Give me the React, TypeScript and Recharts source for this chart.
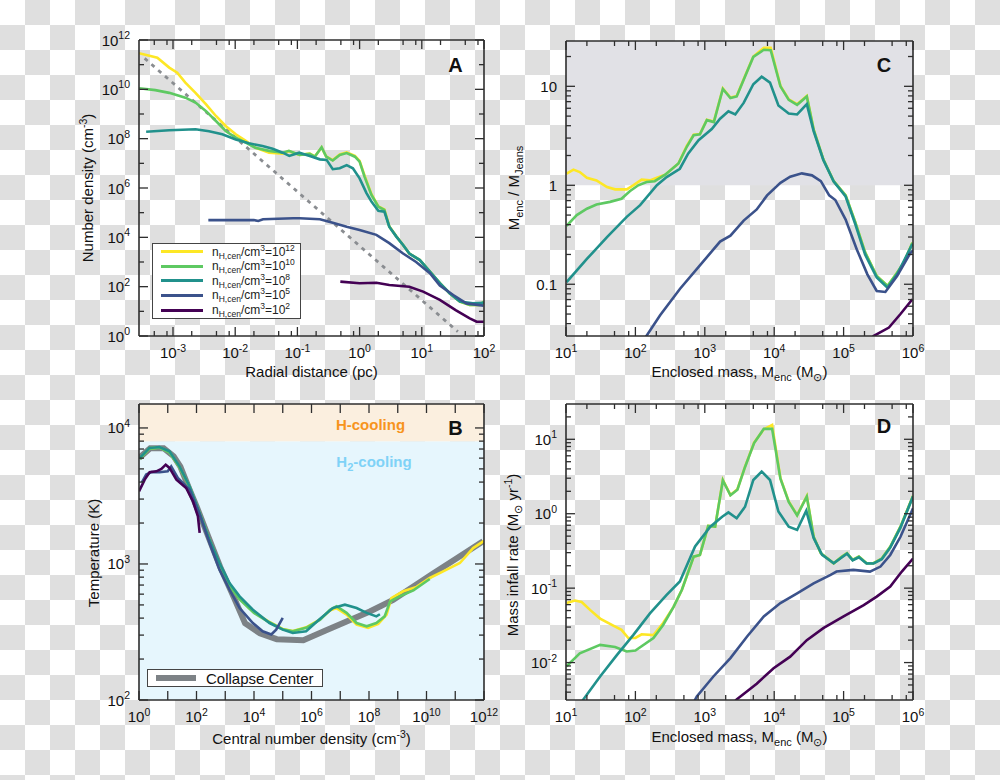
import React from 'react';
import { LineChart, Line, XAxis, YAxis, ReferenceArea, Legend } from 'recharts';

const FONT = '"Liberation Sans", Arial, Helvetica, sans-serif';
const INK = '#2e2e2e';

// viridis-like colours used for the five snapshots
const YELLOW = '#fde725';
const GREEN = '#5ec962';
const TEAL = '#21918c';
const BLUE = '#3b528b';
const PURPLE = '#440154';
const GRAY = '#7d8286';

type Pt = [number, number];

// ---- Panel A: number density (cm^-3) vs radial distance (pc)
const A_N12: Pt[] = [
  [2.84e-4, 2.9e11], [5.6e-4, 1.9e11], [8.7e-4, 7.6e10], [1.17e-3, 4.7e10], [1.58e-3, 1.86e10],
  [2.3e-3, 7.2e9], [3.4e-3, 2.45e9], [4.9e-3, 8.3e8], [7.1e-3, 3.2e8], [1.02e-2, 1.5e8],
  [1.48e-2, 8.1e7], [2.1e-2, 4.3e7], [3.5e-2, 2.7e7], [5.8e-2, 2.45e7], [7.3e-2, 3.1e7],
  [0.109, 2.2e7], [0.158, 2.5e7], [0.19, 1.9e7], [0.245, 4.4e7], [0.29, 1.9e7], [0.37, 1.35e7],
  [0.48, 2.3e7], [0.62, 2.8e7], [0.84, 2.0e7], [1.0, 1.25e7], [1.2, 3.2e6], [1.55, 5.6e5],
  [2.0, 1.8e5], [2.5, 1.35e5], [3.0, 2.8e4], [3.9, 1.1e4], [5.0, 4.9e3], [6.3, 2.2e3],
  [9.3, 1.2e3], [13.5, 410], [19.5, 138], [28, 54], [41, 25], [59, 18], [85, 18], [100, 25],
];
const A_N10: Pt[] = [
  [2.84e-4, 1.1e10], [5.2e-4, 9.3e9], [8.7e-4, 7.2e9], [1.58e-3, 4.6e9], [2.3e-3, 2.9e9],
  [3.4e-3, 1.3e9], [4.9e-3, 5.2e8], [7.1e-3, 2.0e8], [1.02e-2, 1.1e8], [1.48e-2, 6.9e7],
  [2.1e-2, 4.3e7], [3.5e-2, 3.2e7], [5.8e-2, 2.7e7], [7.3e-2, 3.2e7], [0.109, 2.2e7],
  [0.158, 2.4e7], [0.19, 1.86e7], [0.245, 4.5e7], [0.29, 1.86e7], [0.37, 1.3e7], [0.48, 2.2e7],
  [0.62, 2.6e7], [0.84, 1.86e7], [1.0, 1.17e7], [1.2, 2.9e6], [1.55, 5.2e5], [2.0, 1.74e5],
  [2.5, 1.3e5], [3.0, 2.7e4], [3.9, 1.07e4], [5.0, 4.9e3], [6.3, 2.2e3], [9.3, 1.2e3],
  [13.5, 410], [19.5, 138], [28, 54], [41, 25], [59, 18], [85, 18], [100, 25],
];
const A_N8: Pt[] = [
  [3.7e-4, 1.9e8], [8.7e-4, 2.2e8], [2.3e-3, 2.4e8], [3.8e-3, 2.0e8], [6.2e-3, 1.5e8],
  [1.02e-2, 9.3e7], [1.66e-2, 6.5e7], [2.75e-2, 5.0e7], [4.0e-2, 3.9e7], [5.8e-2, 2.7e7],
  [7.4e-2, 2.0e7], [0.107, 2.7e7], [0.158, 2.0e7], [0.23, 1.45e7], [0.295, 1.38e7],
  [0.37, 5.8e6], [0.48, 6.3e6], [0.62, 8.5e6], [0.78, 6.3e6], [1.0, 2.45e6], [1.29, 6.2e5],
  [1.55, 2.8e5], [2.0, 1.2e5], [2.5, 1.1e5], [3.0, 2.7e4], [3.9, 1.07e4], [5.0, 4.9e3],
  [6.3, 2.2e3], [9.3, 1.2e3], [13.5, 410], [19.5, 138], [28, 54], [41, 25], [66, 21], [100, 22],
];
const A_N5: Pt[] = [
  [3.7e-3, 5.0e4], [1.0e-2, 5.0e4], [2.0e-2, 5.0e4], [2.35e-2, 4.6e4], [2.8e-2, 5.4e4],
  [8.5e-2, 5.9e4], [0.109, 5.9e4], [0.23, 5.4e4], [0.37, 3.9e4], [0.62, 2.7e4], [1.0, 2.0e4],
  [1.86, 1.26e4], [3.0, 5.8e3], [5.0, 2.2e3], [8.1, 1.0e3], [13.5, 350], [19.5, 112],
  [32, 46], [52, 21], [98, 17],
];
const A_N2: Pt[] = [
  [0.49, 160], [1.0, 138], [1.86, 145], [3.0, 117], [6.3, 100], [10.5, 63], [19.5, 29],
  [35, 11.2], [59, 5.2], [76, 3.8], [100, 3.8],
];
const A_FIT: Pt[] = [[3.5e-4, 1.8e11], [38, 1.5]];

// ---- Panel B: temperature (K) vs central number density (cm^-3)
const B_CENTER: Pt[] = [
  [1, 6000], [2.45, 7100], [7.2, 7100], [16, 6200], [27.5, 5200], [52, 3700], [102, 2630],
  [230, 1690], [660, 955], [1950, 575], [4900, 366], [1.6e4, 309], [6.2e4, 280], [5.2e5, 275],
  [3.4e6, 327], [1.66e7, 378], [1.07e8, 447], [6.9e8, 545], [3.5e9, 682], [1.7e10, 851],
  [1.1e11, 1096], [9.3e11, 1466],
];
const B_N12: Pt[] = [
  [1.05, 5960], [2.3, 7080], [5.2, 7200], [11.5, 6650], [25.7, 5160], [57.5, 3690], [129, 2350],
  [282, 1500], [631, 1000], [1410, 700], [3160, 555], [1e4, 440], [3.16e4, 378], [1e5, 333],
  [2.24e5, 322], [6.5e5, 342], [2e6, 392], [4.4e6, 455], [7.4e6, 474], [1.66e7, 424],
  [3.7e7, 358], [9.3e7, 339], [2.1e8, 363], [4.1e8, 424], [6e8, 562], [1.55e9, 630],
  [4.5e9, 678], [1.3e10, 789], [3.8e10, 883], [1.45e11, 1016], [4.2e11, 1309], [1e12, 1480],
];
const B_N10: Pt[] = [
  [1.05, 5900], [2.3, 7050], [5.2, 7160], [11.5, 6600], [25.7, 5130], [57.5, 3670], [129, 2340],
  [282, 1500], [631, 1000], [1410, 692], [3160, 550], [1e4, 437], [3.16e4, 376], [1e5, 331],
  [2.24e5, 320], [6.5e5, 339], [2e6, 389], [4.4e6, 461], [7.4e6, 489], [1.66e7, 437],
  [3.7e7, 368], [8.3e7, 348], [1.8e8, 368], [3.5e8, 412], [5.4e8, 531], [1.17e9, 578],
  [3.5e9, 640], [1e10, 746], [1.3e10, 776],
];
const B_N8: Pt[] = [
  [1.05, 6010], [2.3, 7130], [5.2, 7240], [11.5, 6730], [25.7, 5220], [57.5, 3720], [129, 2370],
  [282, 1510], [631, 1016], [1410, 724], [3160, 578], [9120, 461], [3.47e4, 368], [1e5, 329],
  [2.24e5, 311], [6.5e5, 320], [1.86e6, 390], [5.5e6, 474], [1.45e7, 502], [3.7e7, 474],
  [8.3e7, 437], [1.8e8, 412], [2.4e8, 427],
];
const B_N5: Pt[] = [
  [1.26, 3980], [1.78, 4540], [2.7, 4740], [5.2, 4720], [10, 4800], [13.2, 5220], [22.4, 4290],
  [57.5, 3520], [129, 2310], [282, 1430], [631, 908], [1410, 647], [3160, 474], [9120, 368],
  [2.0e4, 320], [4.0e4, 303], [5.9e4, 329], [1e5, 401],
];
const B_N2: Pt[] = [
  [1, 3420], [1.58, 4170], [2.34, 4720], [4.0, 4800], [6.0, 4990], [8.5, 5370], [11.5, 5080],
  [20, 4170], [43.6, 3620], [75, 2890], [112, 2240], [129, 1690],
];

// ---- Panel C: M_enc / M_Jeans vs enclosed mass
const C_N12: Pt[] = [
  [10.2, 1.31], [12.8, 1.44], [15.8, 1.36], [20, 1.19], [27.5, 1.12], [39, 0.96], [51, 0.91],
  [75, 0.91], [93, 1.0], [123, 1.14], [162, 1.12], [204, 1.19], [269, 1.28], [417, 1.66],
  [550, 2.5], [690, 3.24], [850, 3.3], [1070, 4.6], [1350, 4.4], [1820, 9.5], [2340, 7.7],
  [2880, 8.0], [3800, 12.7], [5000, 20], [7100, 24.5], [8900, 24.5], [1.23e4, 10.1],
  [1.62e4, 7.4], [2.14e4, 6.6], [2.95e4, 8.0], [3.7e4, 3.67], [5.1e4, 1.83], [7.2e4, 1.1],
  [1.07e5, 0.79], [1.48e5, 0.42], [2.04e5, 0.21], [3.0e5, 0.121], [4.3e5, 0.096],
  [5.9e5, 0.131], [7.4e5, 0.166], [9.8e5, 0.263],
];
const C_N10: Pt[] = [
  [10.2, 0.39], [14.3, 0.5], [20, 0.58], [27.5, 0.64], [43, 0.68], [63, 0.73], [83, 0.87],
  [110, 1.0], [145, 1.08], [190, 1.1], [269, 1.28], [417, 1.66], [550, 2.45], [690, 3.2],
  [850, 3.28], [1070, 4.55], [1350, 4.35], [1820, 9.4], [2340, 7.6], [2880, 7.9], [3800, 12.6],
  [5000, 19.8], [7100, 23.4], [8900, 23.2], [1.23e4, 10.0], [1.62e4, 7.3], [2.14e4, 6.5],
  [2.95e4, 7.9], [3.7e4, 3.65], [5.1e4, 1.83], [7.2e4, 1.1], [1.07e5, 0.79], [1.48e5, 0.42],
  [2.04e5, 0.21], [3.0e5, 0.121], [4.3e5, 0.096], [5.9e5, 0.131], [7.4e5, 0.166], [9.8e5, 0.263],
];
const C_N8: Pt[] = [
  [10.2, 0.105], [20, 0.18], [39, 0.3], [75, 0.48], [117, 0.63], [204, 1.0], [282, 1.21],
  [437, 1.47], [575, 2.09], [813, 2.85], [1260, 3.7], [1660, 4.7], [2190, 5.6], [2750, 5.2],
  [3630, 6.8], [5000, 10.5], [6600, 12.5], [8700, 10.9], [1.15e4, 6.4], [1.62e4, 5.3],
  [2.14e4, 5.2], [2.95e4, 6.6], [3.7e4, 3.53], [5.1e4, 1.8], [7.2e4, 1.09], [1.07e5, 0.77],
  [1.48e5, 0.4], [2.04e5, 0.2], [3.0e5, 0.117], [4.3e5, 0.092], [5.9e5, 0.126], [9.8e5, 0.254],
];
const C_N5: Pt[] = [
  [126, 0.026], [227, 0.0486], [440, 0.09], [850, 0.155], [1660, 0.27], [2340, 0.31],
  [3630, 0.44], [5600, 0.57], [7900, 0.79], [1.23e4, 1.06], [1.7e4, 1.22], [2.5e4, 1.32],
  [3.5e4, 1.26], [4.7e4, 1.1], [6.2e4, 0.79], [7.6e4, 0.71], [1.07e5, 0.45], [1.55e5, 0.225],
  [2.2e5, 0.126], [3.0e5, 0.0855], [4.0e5, 0.0836], [5.9e5, 0.121], [9.1e5, 0.205], [1e6, 0.22],
];
const C_N2: Pt[] = [[2.5e5, 0.0275], [2.7e5, 0.03], [4.5e5, 0.0365], [6.6e5, 0.05], [9.8e5, 0.0705]];

// ---- Panel D: mass infall rate (Msun/yr) vs enclosed mass
const D_N12: Pt[] = [
  [10.2, 0.063], [13.5, 0.068], [16.8, 0.065], [22.2, 0.051], [31, 0.039], [48, 0.0314],
  [63, 0.0275], [79, 0.0214], [100, 0.0214], [123, 0.024], [182, 0.0234], [251, 0.034],
  [355, 0.056], [468, 0.095], [692, 0.265], [851, 0.279], [1120, 0.685], [1410, 0.67],
  [1820, 2.84], [2340, 1.79], [2950, 2.13], [3800, 4.3], [5130, 9.0], [7080, 13.6],
  [9330, 15.6], [1.23e4, 3.0], [1.62e4, 1.46], [2.14e4, 0.96], [2.95e4, 1.73], [3.7e4, 0.49],
  [4.7e4, 0.295], [7.2e4, 0.216], [9.5e4, 0.265], [1.12e5, 0.295], [1.35e5, 0.24],
  [1.66e5, 0.265], [2.14e5, 0.216], [2.7e5, 0.216], [3.55e5, 0.25], [4.7e5, 0.36],
  [6.6e5, 0.67], [1e6, 1.73],
];
const D_N10: Pt[] = [
  [10.2, 0.0089], [15.8, 0.0133], [31, 0.0173], [51, 0.0162], [75, 0.0141], [100, 0.0145],
  [182, 0.0214], [251, 0.032], [355, 0.056], [468, 0.095], [692, 0.265], [851, 0.279],
  [1120, 0.685], [1410, 0.67], [1820, 2.8], [2340, 1.77], [2950, 2.1], [3800, 4.25],
  [5130, 8.9], [7080, 13.8], [9330, 13.8], [1.23e4, 2.95], [1.62e4, 1.44], [2.14e4, 0.95],
  [2.95e4, 1.7], [3.7e4, 0.49], [4.7e4, 0.295], [7.2e4, 0.216], [9.5e4, 0.265], [1.12e5, 0.295],
  [1.35e5, 0.24], [1.66e5, 0.265], [2.14e5, 0.216], [2.7e5, 0.216], [3.55e5, 0.25],
  [4.7e5, 0.36], [6.6e5, 0.67], [1e6, 1.73],
];
const D_N8: Pt[] = [
  [15.1, 0.0025], [17.8, 0.0032], [31, 0.0065], [54, 0.0126], [93, 0.0234], [162, 0.0457],
  [282, 0.081], [437, 0.123], [724, 0.363], [1200, 0.67], [1780, 0.91], [2190, 1.04],
  [2880, 0.87], [3800, 1.24], [5000, 2.84], [6600, 3.68], [8700, 2.84], [1.15e4, 1.07],
  [1.62e4, 0.67], [2.14e4, 0.605], [2.9e4, 1.1], [3.7e4, 0.47], [4.9e4, 0.28], [7.2e4, 0.216],
  [9.5e4, 0.26], [1.12e5, 0.29], [1.35e5, 0.236], [1.66e5, 0.26], [2.14e5, 0.214],
  [2.7e5, 0.214], [3.55e5, 0.245], [4.7e5, 0.35], [6.6e5, 0.65], [1e6, 1.7],
];
const D_N5: Pt[] = [
  [676, 0.0028], [767, 0.0035], [1330, 0.0065], [2340, 0.0115], [4070, 0.0224], [7080, 0.0417],
  [1.23e4, 0.063], [2.14e4, 0.085], [3.7e4, 0.116], [6.5e4, 0.151], [7.9e4, 0.167],
  [1.38e5, 0.176], [2.4e5, 0.167], [3.4e5, 0.195], [4.7e5, 0.279], [6.6e5, 0.49], [1e6, 1.18],
];
const D_N2: Pt[] = [
  [2510, 0.0028], [2880, 0.0032], [5600, 0.0052], [9800, 0.0084], [1.7e4, 0.012],
  [2.95e4, 0.02], [5.1e4, 0.029], [1e5, 0.0417], [1.95e5, 0.059], [3.0e5, 0.077],
  [4.7e5, 0.105], [6.9e5, 0.167], [1e6, 0.25],
];

// ---- tick values
const A_X_TICKS = [5e-4, 8e-4, 1e-3, 2e-3, 5e-3, 8e-3, 1e-2, 2e-2, 5e-2, 8e-2, 0.1, 0.2, 0.5, 0.8, 1, 2, 5, 8, 10, 20, 50, 80, 100];
const A_Y_TICKS = [1, 10, 100, 1e3, 1e4, 1e5, 1e6, 1e7, 1e8, 1e9, 1e10, 1e11, 1e12];
const B_X_TICKS = [1, 10, 100, 1e3, 1e4, 1e5, 1e6, 1e7, 1e8, 1e9, 1e10, 1e11, 1e12];
const B_Y_TICKS = [100, 200, 300, 400, 500, 600, 700, 800, 900, 1000, 2000, 3000, 4000, 5000, 6000, 7000, 8000, 9000, 10000];
const M_X_TICKS = [10, 20, 50, 80, 100, 200, 500, 800, 1e3, 2e3, 5e3, 8e3, 1e4, 2e4, 5e4, 8e4, 1e5, 2e5, 5e5, 8e5, 1e6];
const C_Y_TICKS = [0.04, 0.05, 0.06, 0.07, 0.08, 0.09, 0.1, 0.2, 0.3, 0.4, 0.5, 0.6, 0.7, 0.8, 0.9, 1, 2, 3, 4, 5, 6, 7, 8, 9, 10, 20];
const D_Y_TICKS = [0.004, 0.005, 0.006, 0.007, 0.008, 0.009, 0.01, 0.02, 0.03, 0.04, 0.05, 0.06, 0.07, 0.08, 0.09, 0.1, 0.2, 0.3, 0.4, 0.5, 0.6, 0.7, 0.8, 0.9, 1, 2, 3, 4, 5, 6, 7, 8, 9, 10, 20];

const pts = (a: Pt[]) => a.map(([x, y]) => ({ x, y }));
const isDecade = (v: number) => Math.abs(Math.log10(v) - Math.round(Math.log10(v))) < 1e-6;
const expOf = (v: number) => Math.round(Math.log10(v));
const Pow = (v: number) => (
  <>
    10<tspan dy={-6.5} fontSize={10.5}>{expOf(v)}</tspan>
  </>
);

// text with sub/superscripts; each piece moves the baseline back as needed
type Seg = string | { sub: string } | { sup: string };
const rich = (segs: Seg[]) => {
  let cur = 0;
  return segs.map((s, i) => {
    const isStr = typeof s === 'string';
    const target = isStr ? 0 : 'sub' in s ? 4 : -6;
    const dy = target - cur;
    cur = target;
    const txt = isStr ? s : 'sub' in s ? s.sub : s.sup;
    const fs = isStr ? undefined : 'sub' in s ? 11 : 10.5;
    return (
      <tspan key={i} dy={dy !== 0 ? dy : undefined} fontSize={fs}>{txt}</tspan>
    );
  });
};

type Fmt = { major: (v: number) => boolean; label?: (v: number) => React.ReactNode };

// ticks point inward; labels only on bottom/left
const tickFor = (side: 'bottom' | 'top' | 'left' | 'right', fmt: Fmt) => (p: any) => {
  const { x, y } = p;
  const v = p.payload.value;
  const len = fmt.major(v) ? 9 : 5;
  const d =
    side === 'bottom' ? [x, y, x, y - len] :
    side === 'top' ? [x, y, x, y + len] :
    side === 'left' ? [x, y, x + len, y] : [x, y, x - len, y];
  const lab = fmt.label ? fmt.label(v) : null;
  return (
    <g>
      <line x1={d[0]} y1={d[1]} x2={d[2]} y2={d[3]} stroke={INK} strokeWidth={1.3} />
      {lab != null && side === 'bottom' && (
        <text x={x} y={y + 22} textAnchor="middle" fontSize={15} fontFamily={FONT} fill="#111">{lab}</text>
      )}
      {lab != null && side === 'left' && (
        <text x={x - 9} y={y + 5.5} textAnchor="end" fontSize={15} fontFamily={FONT} fill="#111">{lab}</text>
      )}
    </g>
  );
};

const textStyle = { fontFamily: FONT, fontSize: 15, fill: '#111' };
const AXIS = { stroke: INK, strokeWidth: 1.6 };

type PanelProps = {
  left: number;
  top: number;
  margin: { top: number; right: number; bottom: number; left: number };
  xDomain: [number, number];
  yDomain: [number, number];
  xTicks: number[];
  yTicks: number[];
  xFmt: Fmt;
  yFmt: Fmt;
  texts: () => React.ReactNode;
  children: React.ReactNode;
};

// every axis is 1px thick, so the margins are one less than the plot offset on each side
function LogPanel({ left, top, margin, xDomain, yDomain, xTicks, yTicks, xFmt, yFmt, texts, children }: PanelProps) {
  const m = { top: margin.top - 1, right: margin.right - 1, bottom: margin.bottom - 1, left: margin.left - 1 };
  return (
    <div style={{ position: 'absolute', left, top }}>
      <LineChart width={500} height={390} margin={m}>
        {children}
        <XAxis xAxisId="b" type="number" dataKey="x" scale="log" domain={xDomain} allowDataOverflow ticks={xTicks}
          interval={0} height={1} tickSize={0} tickMargin={0} tickLine={false} axisLine={AXIS}
          tick={tickFor('bottom', xFmt)} label={texts} />
        <XAxis xAxisId="t" orientation="top" type="number" dataKey="x" scale="log" domain={xDomain} allowDataOverflow
          ticks={xTicks} interval={0} height={1} tickSize={0} tickMargin={0} tickLine={false} axisLine={AXIS}
          tick={tickFor('top', { major: xFmt.major })} />
        <YAxis yAxisId="l" type="number" dataKey="y" scale="log" domain={yDomain} allowDataOverflow ticks={yTicks}
          interval={0} width={1} tickSize={0} tickMargin={0} tickLine={false} axisLine={AXIS}
          tick={tickFor('left', yFmt)} />
        <YAxis yAxisId="r" orientation="right" type="number" dataKey="y" scale="log" domain={yDomain} allowDataOverflow
          ticks={yTicks} interval={0} width={1} tickSize={0} tickMargin={0} tickLine={false} axisLine={AXIS}
          tick={tickFor('right', { major: yFmt.major })} />
      </LineChart>
    </div>
  );
}

const series = (data: Pt[], color: string, key: string, width = 2.6, dash?: string) => (
  <Line key={key} data={pts(data)} dataKey="y" xAxisId="b" yAxisId="l" type="linear" stroke={color}
    strokeWidth={width} strokeDasharray={dash} dot={false} isAnimationActive={false} legendType="none" />
);

const LEGEND_A = [
  { exp: '12', color: YELLOW },
  { exp: '10', color: GREEN },
  { exp: '8', color: TEAL },
  { exp: '5', color: BLUE },
  { exp: '2', color: PURPLE },
];

const LegendA = () => (
  <div style={{ width: 147, height: 73, border: '1.5px solid #444', background: '#fff', fontFamily: FONT, fontSize: 12, color: '#222', paddingTop: 0.5 }}>
    {LEGEND_A.map((r) => (
      <div key={r.exp} style={{ display: 'flex', alignItems: 'center', height: 14.6, lineHeight: '14.6px', whiteSpace: 'nowrap' }}>
        <div style={{ marginLeft: 8, width: 42, height: 3, background: r.color }} />
        <span style={{ marginLeft: 9 }}>
          n<span style={{ fontSize: 8.5, verticalAlign: '-3px' }}>H,cen</span>/cm
          <span style={{ fontSize: 8.5, verticalAlign: '5px' }}>3</span>=10
          <span style={{ fontSize: 8.5, verticalAlign: '5px' }}>{r.exp}</span>
        </span>
      </div>
    ))}
  </div>
);

const LegendB = () => (
  <div style={{ width: 174, height: 16, border: '1.5px solid #444', background: '#fff', fontFamily: FONT, fontSize: 15, color: '#111', display: 'flex', alignItems: 'center', whiteSpace: 'nowrap' }}>
    <div style={{ marginLeft: 8, width: 40, height: 6, background: GRAY }} />
    <span style={{ marginLeft: 10 }}>Collapse Center</span>
  </div>
);

const LETTER = { fontFamily: FONT, fontSize: 20, fontWeight: 700, fill: '#111' };
const SUN = '\u2299';

export default function App() {
  return (
    <div style={{
      position: 'absolute', left: 0, top: 0, width: 1000, height: 780, overflow: 'hidden',
      backgroundColor: '#fff',
      backgroundImage: 'conic-gradient(#dfdfdf 0 25%, #ffffff 0 50%, #dfdfdf 0 75%, #ffffff 0 100%)',
      backgroundSize: '50px 50px',
    }}>
      {/* A */}
      <LogPanel left={0} top={0} margin={{ top: 40, right: 16, bottom: 54, left: 139 }}
        xDomain={[2.84e-4, 100]} yDomain={[1, 1e12]} xTicks={A_X_TICKS} yTicks={A_Y_TICKS}
        xFmt={{ major: isDecade, label: (v) => (isDecade(v) ? Pow(v) : null) }}
        yFmt={{ major: (v) => expOf(v) % 2 === 0, label: (v) => (expOf(v) % 2 === 0 ? Pow(v) : null) }}
        texts={() => (
          <g>
            <text x={311.5} y={377} textAnchor="middle" style={textStyle}>Radial distance (pc)</text>
            <text x={93} y={188} transform="rotate(-90 93 188)" textAnchor="middle" style={textStyle}>
              {rich(['Number density (cm', { sup: '-3' }, ')'])}
            </text>
            <text x={455.5} y={71.5} textAnchor="middle" style={LETTER}>A</text>
          </g>
        )}>
        {series(A_FIT, '#8a8d91', 'fit', 2.8, '4 5')}
        {series(A_N12, YELLOW, 'a12')}
        {series(A_N10, GREEN, 'a10')}
        {series(A_N8, TEAL, 'a8')}
        {series(A_N5, BLUE, 'a5')}
        {series(A_N2, PURPLE, 'a2')}
        <Legend content={LegendA} layout="horizontal" verticalAlign="middle" align="center"
          wrapperStyle={{ left: 152, top: 243, width: 150, height: 76 }} />
      </LogPanel>

      {/* C */}
      <LogPanel left={500} top={0} margin={{ top: 41, right: 87, bottom: 54, left: 66 }}
        xDomain={[10, 1e6]} yDomain={[0.03, 28.7]} xTicks={M_X_TICKS} yTicks={C_Y_TICKS}
        xFmt={{ major: isDecade, label: (v) => (isDecade(v) ? Pow(v) : null) }}
        yFmt={{ major: isDecade, label: (v) => (isDecade(v) ? String(v) : null) }}
        texts={() => (
          <g>
            <text x={239.5} y={377} textAnchor="middle" style={textStyle}>
              {rich(['Enclosed mass, M', { sub: 'enc' }, ' (M', { sub: SUN }, ')'])}
            </text>
            <text x={19} y={188} transform="rotate(-90 19 188)" textAnchor="middle" style={textStyle}>
              {rich(['M', { sub: 'enc' }, ' / M', { sub: 'Jeans' }])}
            </text>
            <text x={384} y={72} textAnchor="middle" style={LETTER}>C</text>
          </g>
        )}>
        <ReferenceArea xAxisId="b" yAxisId="l" y1={1} y2={28.7} fill="#e1e1e6" fillOpacity={1} stroke="none" ifOverflow="hidden" />
        {series(C_N12, YELLOW, 'c12')}
        {series(C_N10, GREEN, 'c10')}
        {series(C_N8, TEAL, 'c8')}
        {series(C_N5, BLUE, 'c5')}
        {series(C_N2, PURPLE, 'c2')}
      </LogPanel>

      {/* B */}
      <LogPanel left={0} top={390} margin={{ top: 14, right: 16, bottom: 80, left: 139 }}
        xDomain={[1, 1e12]} yDomain={[100, 1.5e4]} xTicks={B_X_TICKS} yTicks={B_Y_TICKS}
        xFmt={{ major: () => true, label: (v) => (expOf(v) % 2 === 0 ? Pow(v) : null) }}
        yFmt={{ major: isDecade, label: (v) => (isDecade(v) ? Pow(v) : null) }}
        texts={() => (
          <g>
            <text x={311.5} y={354} textAnchor="middle" style={textStyle}>
              {rich(['Central number density (cm', { sup: '-3' }, ')'])}
            </text>
            <text x={99} y={163} transform="rotate(-90 99 163)" textAnchor="middle" style={textStyle}>Temperature (K)</text>
            <text x={455.5} y={45} textAnchor="middle" style={LETTER}>B</text>
            <text x={370.5} y={40} textAnchor="middle" style={{ ...textStyle, fontWeight: 700, fill: '#f7941d' }}>H-cooling</text>
            <text x={374} y={77} textAnchor="middle" style={{ ...textStyle, fontWeight: 700, fill: '#7fd2f7' }}>
              {rich(['H', { sub: '2' }, '-cooling'])}
            </text>
          </g>
        )}>
        <ReferenceArea xAxisId="b" yAxisId="l" y1={100} y2={8000} fill="#e6f6fd" fillOpacity={1} stroke="none" ifOverflow="hidden" />
        <ReferenceArea xAxisId="b" yAxisId="l" y1={8000} y2={1.5e4} fill="#fbefdf" fillOpacity={1} stroke="none" ifOverflow="hidden" />
        {series(B_CENTER, GRAY, 'bc', 6)}
        {series(B_N12, YELLOW, 'b12')}
        {series(B_N10, GREEN, 'b10')}
        {series(B_N8, TEAL, 'b8')}
        {series(B_N5, BLUE, 'b5')}
        {series(B_N2, PURPLE, 'b2')}
        <Legend content={LegendB} layout="horizontal" verticalAlign="middle" align="center"
          wrapperStyle={{ left: 147, top: 279, width: 177, height: 19 }} />
      </LogPanel>

      {/* D */}
      <LogPanel left={500} top={390} margin={{ top: 14, right: 87, bottom: 80, left: 66 }}
        xDomain={[10, 1e6]} yDomain={[0.00314, 29.8]} xTicks={M_X_TICKS} yTicks={D_Y_TICKS}
        xFmt={{ major: isDecade, label: (v) => (isDecade(v) ? Pow(v) : null) }}
        yFmt={{ major: isDecade, label: (v) => (isDecade(v) ? Pow(v) : null) }}
        texts={() => (
          <g>
            <text x={239.5} y={352} textAnchor="middle" style={textStyle}>
              {rich(['Enclosed mass, M', { sub: 'enc' }, ' (M', { sub: SUN }, ')'])}
            </text>
            <text x={18} y={165} transform="rotate(-90 18 165)" textAnchor="middle" style={textStyle}>
              {rich(['Mass infall rate (M', { sub: SUN }, ' yr', { sup: '-1' }, ')'])}
            </text>
            <text x={384} y={43} textAnchor="middle" style={LETTER}>D</text>
          </g>
        )}>
        {series(D_N12, YELLOW, 'd12')}
        {series(D_N10, GREEN, 'd10')}
        {series(D_N8, TEAL, 'd8')}
        {series(D_N5, BLUE, 'd5')}
        {series(D_N2, PURPLE, 'd2')}
      </LogPanel>
    </div>
  );
}
